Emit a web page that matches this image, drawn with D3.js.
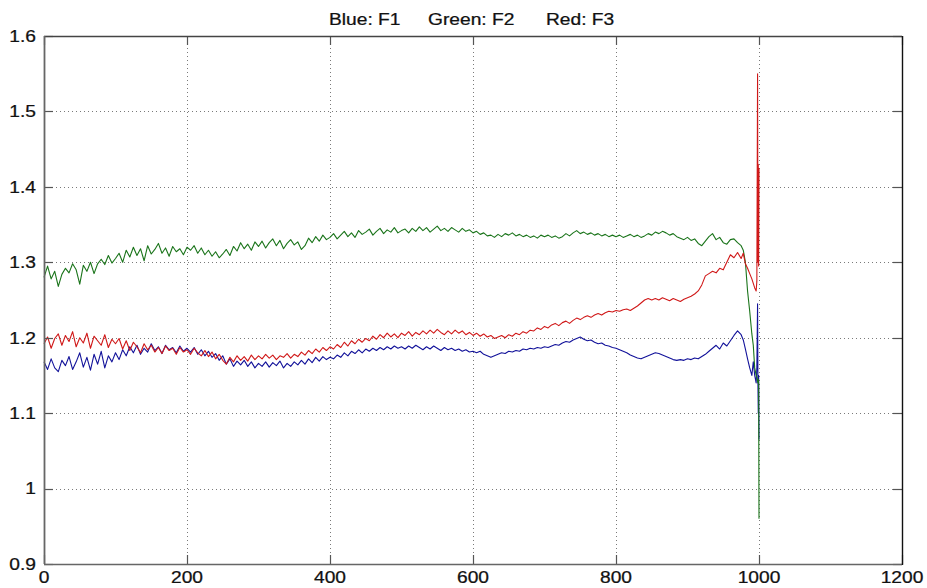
<!DOCTYPE html>
<html>
<head>
<meta charset="utf-8">
<script src="https://cdn.jsdelivr.net/npm/d3@7"></script>
<style>
  html, body { margin: 0; padding: 0; background: #fff; }
  svg { display: block; }
  text { font-family: "Liberation Sans", Arial, sans-serif; fill: #111; }
</style>
</head>
<body>
<svg id="chart" width="927" height="588"></svg>
<script>
// ---------------- DATA ----------------
const xTicks = [0, 200, 400, 600, 800, 1000, 1200];
const yTicks = [0.9, 1, 1.1, 1.2, 1.3, 1.4, 1.5, 1.6];
const xTickLabels = ["0", "200", "400", "600", "800", "1000", "1200"];
const yTickLabels = ["0.9", "1", "1.1", "1.2", "1.3", "1.4", "1.5", "1.6"];
const titleParts = ["Blue: F1", "Green: F2", "Red: F3"];

// sample positions: every 5 units from 0 to 975, then a denser tail
const mainStep = 5;
const tailX = [978, 981, 984, 987, 990, 992, 994, 996, 997, 998, 998.5, 999, 999.5, 1000];

const greenMain = [
  1.280, 1.295, 1.278, 1.288, 1.268, 1.284, 1.292, 1.286, 1.298, 1.290, 1.271, 1.296, 1.288, 1.300, 1.285, 1.298, 1.304, 1.297, 1.309, 1.299, 1.305,
  1.312, 1.300, 1.316, 1.307, 1.320, 1.309, 1.318, 1.302, 1.322, 1.311, 1.317, 1.325, 1.312, 1.319, 1.308, 1.321, 1.314, 1.318, 1.310, 1.320,
  1.316, 1.322, 1.312, 1.319, 1.310, 1.316, 1.308, 1.314, 1.306, 1.311, 1.317, 1.309, 1.321, 1.315, 1.326, 1.318, 1.324, 1.316, 1.327, 1.321,
  1.328, 1.319, 1.326, 1.331, 1.322, 1.329, 1.318, 1.325, 1.330, 1.323, 1.327, 1.317, 1.322, 1.332, 1.326, 1.334, 1.328, 1.336, 1.330, 1.333,
  1.338, 1.331, 1.336, 1.341, 1.334, 1.339, 1.333, 1.342, 1.337, 1.340, 1.344, 1.336, 1.341, 1.345, 1.338, 1.343, 1.340, 1.346, 1.339, 1.342,
  1.344, 1.339, 1.345, 1.341, 1.347, 1.342, 1.346, 1.340, 1.344, 1.348, 1.342, 1.345, 1.341, 1.346, 1.343, 1.340, 1.345, 1.341, 1.343, 1.339,
  1.341, 1.337, 1.339, 1.335, 1.336, 1.333, 1.337, 1.334, 1.338, 1.336, 1.339, 1.335, 1.337, 1.334, 1.336, 1.333, 1.335, 1.332, 1.336, 1.334,
  1.336, 1.333, 1.335, 1.332, 1.334, 1.338, 1.335, 1.339, 1.342, 1.338, 1.340, 1.337, 1.339, 1.336, 1.338, 1.335, 1.337, 1.334, 1.336, 1.334,
  1.336, 1.333, 1.335, 1.337, 1.334, 1.336, 1.333, 1.335, 1.338, 1.336, 1.340, 1.338, 1.341, 1.339, 1.336, 1.338, 1.334, 1.332, 1.330, 1.333,
  1.329, 1.331, 1.325, 1.322, 1.328, 1.334, 1.338, 1.330, 1.333, 1.326, 1.324, 1.330, 1.331, 1.326, 1.322
];
const greenTail = [1.316, 1.300, 1.262, 1.235, 1.205, 1.190, 1.160, 1.150, 1.148, 1.142, 1.140, 1.145, 1.140, 0.960];

const redMain = [
  1.192, 1.201, 1.186, 1.199, 1.205, 1.190, 1.203, 1.195, 1.208, 1.188, 1.200, 1.193, 1.206, 1.186, 1.202, 1.196, 1.190, 1.204, 1.187, 1.198, 1.192,
  1.199, 1.185, 1.196, 1.183, 1.194, 1.188, 1.180, 1.192, 1.184, 1.190, 1.181, 1.187, 1.179, 1.189, 1.183, 1.186, 1.178, 1.187, 1.181, 1.184,
  1.178, 1.186, 1.180, 1.176, 1.183, 1.175, 1.181, 1.172, 1.178, 1.170, 1.165, 1.174, 1.168, 1.176, 1.170, 1.175, 1.169, 1.177, 1.171, 1.176,
  1.172, 1.178, 1.173, 1.177, 1.171, 1.176, 1.174, 1.179, 1.173, 1.178, 1.175, 1.181, 1.177, 1.183, 1.179, 1.185, 1.181, 1.187, 1.183, 1.188,
  1.185, 1.191, 1.187, 1.194, 1.189, 1.196, 1.192, 1.198, 1.194, 1.199, 1.196, 1.202, 1.198, 1.204, 1.200, 1.206, 1.201, 1.205, 1.200, 1.206,
  1.203, 1.208, 1.202, 1.207, 1.204, 1.209, 1.205, 1.210, 1.206, 1.211, 1.207, 1.204, 1.209, 1.205, 1.210, 1.206, 1.209, 1.204, 1.207, 1.203,
  1.206, 1.202, 1.205, 1.201, 1.203, 1.199, 1.201, 1.203, 1.200, 1.204, 1.202, 1.206, 1.204, 1.208, 1.206, 1.210, 1.209, 1.213, 1.211, 1.215,
  1.213, 1.217, 1.219, 1.216, 1.220, 1.222, 1.219, 1.223, 1.226, 1.224, 1.227, 1.229, 1.227, 1.230, 1.232, 1.230, 1.233, 1.235, 1.234, 1.236,
  1.235, 1.237, 1.238, 1.236, 1.239, 1.242, 1.246, 1.250, 1.252, 1.250, 1.252, 1.250, 1.253, 1.251, 1.249, 1.252, 1.250, 1.248, 1.251, 1.253,
  1.255, 1.258, 1.262, 1.270, 1.282, 1.285, 1.288, 1.286, 1.292, 1.290, 1.300, 1.310, 1.306, 1.313, 1.305
];
const redTail = [1.312, 1.298, 1.292, 1.285, 1.278, 1.272, 1.266, 1.262, 1.275, 1.550, 1.300, 1.430, 1.295, 1.425];

const blueMain = [
  1.168, 1.158, 1.172, 1.160, 1.155, 1.170, 1.163, 1.175, 1.158, 1.168, 1.180, 1.161, 1.174, 1.157, 1.178, 1.165, 1.182, 1.160, 1.176, 1.168, 1.180,
  1.171, 1.184, 1.176, 1.188, 1.180, 1.190, 1.178, 1.186, 1.181, 1.192, 1.183, 1.188, 1.179, 1.190, 1.184, 1.187, 1.180, 1.189, 1.182, 1.186,
  1.181, 1.187, 1.178, 1.184, 1.176, 1.182, 1.174, 1.179, 1.170, 1.176, 1.165, 1.172, 1.162, 1.169, 1.164, 1.170, 1.162, 1.168, 1.160, 1.166,
  1.162, 1.168, 1.161, 1.167, 1.163, 1.169, 1.160, 1.166, 1.162, 1.168, 1.164, 1.170, 1.165, 1.172, 1.167, 1.174, 1.169, 1.175, 1.171, 1.174,
  1.172, 1.177, 1.174, 1.180, 1.176, 1.182, 1.179, 1.184, 1.180, 1.185, 1.182, 1.186, 1.183, 1.187, 1.184, 1.188, 1.185, 1.189, 1.186, 1.188,
  1.185, 1.189, 1.186, 1.190, 1.187, 1.184, 1.188, 1.185, 1.189, 1.186, 1.183, 1.187, 1.184, 1.186, 1.183, 1.185, 1.182, 1.184, 1.181, 1.182,
  1.180, 1.182, 1.178, 1.176, 1.174, 1.176, 1.178, 1.180, 1.179, 1.182, 1.181, 1.183, 1.182, 1.185, 1.184, 1.186, 1.185, 1.187, 1.186, 1.188,
  1.187, 1.189, 1.191, 1.190, 1.193, 1.195, 1.194, 1.197, 1.199, 1.201, 1.198, 1.196, 1.197, 1.194, 1.192, 1.193, 1.190, 1.189, 1.187, 1.186,
  1.184, 1.182, 1.180, 1.177, 1.175, 1.173, 1.172, 1.174, 1.176, 1.178, 1.180, 1.179, 1.177, 1.175, 1.173, 1.171, 1.170, 1.171, 1.170, 1.172,
  1.171, 1.173, 1.172, 1.175, 1.178, 1.182, 1.186, 1.190, 1.185, 1.193, 1.189, 1.196, 1.203, 1.209, 1.204
];
const blueTail = [1.197, 1.185, 1.172, 1.160, 1.150, 1.168, 1.150, 1.140, 1.160, 1.245, 1.140, 1.100, 1.150, 1.065];

// ---------------- CHART ----------------
const W = 927, H = 588;
const plot = { left: 44, right: 902, top: 36, bottom: 564 };
const fontSize = 16, stretch = 1.2;

const x = d3.scaleLinear().domain([0, 1200]).range([plot.left, plot.right]);
const y = d3.scaleLinear().domain([0.9, 1.6]).range([plot.bottom, plot.top]);

const svg = d3.select("#chart");

function series(main, tail) {
  const pts = main.map((v, i) => [i * mainStep, v]);
  tail.forEach((v, i) => pts.push([tailX[i], v]));
  return pts;
}

// grid lines (dotted)
const grid = svg.append("g");
grid.selectAll("line.gx").data(xTicks.slice(1, -1)).join("line")
  .attr("x1", d => Math.round(x(d)) + 0.5).attr("x2", d => Math.round(x(d)) + 0.5)
  .attr("y1", plot.top).attr("y2", plot.bottom)
  .attr("stroke", "#7a7a7a").attr("stroke-width", 1).attr("stroke-dasharray", "1,3");
grid.selectAll("line.gy").data(yTicks.slice(1, -1)).join("line")
  .attr("y1", d => Math.round(y(d)) + 0.5).attr("y2", d => Math.round(y(d)) + 0.5)
  .attr("x1", plot.left).attr("x2", plot.right)
  .attr("stroke", "#7a7a7a").attr("stroke-width", 1).attr("stroke-dasharray", "1,3");

// data lines
const line = d3.line().x(d => x(d[0])).y(d => y(d[1]));
const seriesList = [
  { pts: series(blueMain, blueTail), color: "#12129a" },
  { pts: series(greenMain, greenTail), color: "#1a741a" },
  { pts: series(redMain, redTail), color: "#d01818" }
];
svg.append("g").selectAll("path").data(seriesList).join("path")
  .attr("d", d => line(d.pts))
  .attr("fill", "none")
  .attr("stroke", d => d.color)
  .attr("stroke-width", 1.1)
  .attr("stroke-linejoin", "round");

// ticks (inward, on all four sides)
const tickLen = 9;
const ticks = svg.append("g").attr("stroke", "#555").attr("stroke-width", 1.2);
xTicks.forEach(t => {
  const px = Math.round(x(t)) + 0.5;
  ticks.append("line").attr("x1", px).attr("x2", px).attr("y1", plot.bottom).attr("y2", plot.bottom - tickLen);
  ticks.append("line").attr("x1", px).attr("x2", px).attr("y1", plot.top).attr("y2", plot.top + tickLen);
});
yTicks.forEach(t => {
  const py = Math.round(y(t)) + 0.5;
  ticks.append("line").attr("y1", py).attr("y2", py).attr("x1", plot.left).attr("x2", plot.left + tickLen);
  ticks.append("line").attr("y1", py).attr("y2", py).attr("x1", plot.right).attr("x2", plot.right - tickLen);
});

// axes box
const box = svg.append("g").attr("fill", "none");
box.append("line").attr("x1", plot.left).attr("x2", plot.right).attr("y1", plot.top + 0.5).attr("y2", plot.top + 0.5)
  .attr("stroke", "#444").attr("stroke-width", 1.3);
box.append("line").attr("x1", plot.left).attr("x2", plot.right).attr("y1", plot.bottom + 0.5).attr("y2", plot.bottom + 0.5)
  .attr("stroke", "#666").attr("stroke-width", 1.6);
box.append("line").attr("x1", plot.left + 0.5).attr("x2", plot.left + 0.5).attr("y1", plot.top).attr("y2", plot.bottom)
  .attr("stroke", "#666").attr("stroke-width", 1.8);
box.append("line").attr("x1", plot.right + 0.5).attr("x2", plot.right + 0.5).attr("y1", plot.top).attr("y2", plot.bottom + 1)
  .attr("stroke", "#111").attr("stroke-width", 1.4);

// stretched text helper (the reference glyphs are wider than plain Arial)
function stretchedText(parent, txt, px, py, anchor) {
  parent.append("g").attr("transform", `translate(${px},${py})`)
    .append("text")
    .attr("transform", `scale(${stretch},1)`)
    .attr("text-anchor", anchor)
    .attr("font-size", fontSize)
    .attr("stroke", "#111")
    .attr("stroke-width", 0.25)
    .text(txt);
}

const labels = svg.append("g");
yTicks.forEach((t, i) => stretchedText(labels, yTickLabels[i], 36, y(t) + 5.8, "end"));
xTicks.forEach((t, i) => stretchedText(labels, xTickLabels[i], x(t), 583, "middle"));

// title
const titleX = [329, 428, 546];
titleParts.forEach((t, i) => stretchedText(labels, t, titleX[i], 25, "start"));
</script>
</body>
</html>
